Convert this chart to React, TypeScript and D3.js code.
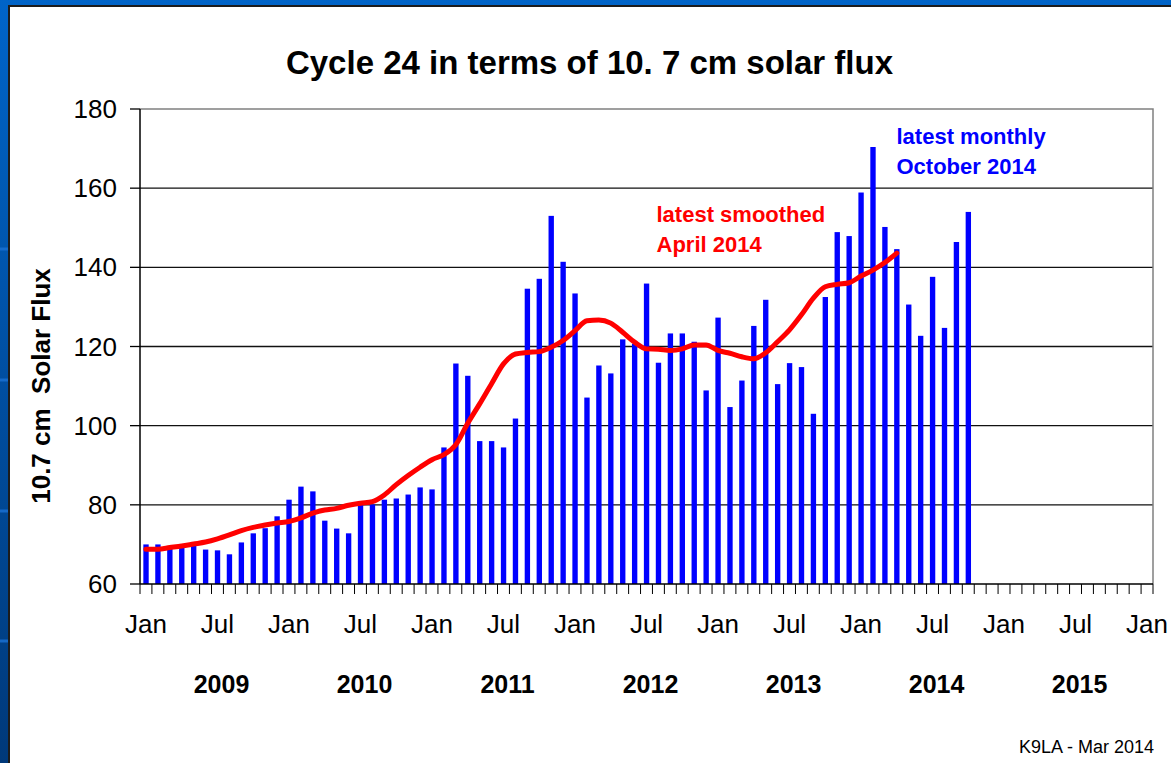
import React from 'react';
import * as d3 from 'd3';

// months shown on the axis, Jan 2009 .. Jan 2016
const years = ['2009', '2010', '2011', '2012', '2013', '2014', '2015'];
const monthNames = ['Jan', 'Feb', 'Mar', 'Apr', 'May', 'Jun', 'Jul', 'Aug', 'Sep', 'Oct', 'Nov', 'Dec'];
const categories = [...years.flatMap(y => monthNames.map(m => `${m} ${y}`)), 'Jan 2016'];

// monthly mean 10.7 cm flux, Jan 2009 .. Oct 2014
const monthlyFlux = [
  70.0, 70.0, 69.2, 69.7, 70.4, 68.7, 68.5, 67.5, 70.5, 72.8, 74.1, 77.1,
  81.3, 84.6, 83.4, 76.0, 74.0, 72.8, 80.3, 80.1, 81.3, 81.6, 82.6, 84.4,
  83.9, 94.5, 115.7, 112.6, 96.1, 96.1, 94.5, 101.8, 134.6, 137.1, 153.0, 141.4,
  133.4, 107.1, 115.2, 113.2, 121.8, 120.7, 135.9, 115.9, 123.3, 123.3, 121.2, 108.9,
  127.3, 104.7, 111.4, 125.2, 131.8, 110.5, 115.8, 114.8, 103.0, 132.5, 148.9, 147.9,
  158.9, 170.4, 150.2, 144.6, 130.6, 122.7, 137.6, 124.7, 146.4, 154.0,
];

// smoothed flux, Jan 2009 .. Apr 2014
const smoothedFlux = [
  68.8, 68.8, 69.2, 69.6, 70.1, 70.6, 71.4, 72.4, 73.5, 74.3, 74.9, 75.4,
  75.8, 76.7, 77.9, 78.7, 79.1, 79.9, 80.4, 80.8, 82.5, 85.1, 87.4, 89.5,
  91.4, 92.7, 95.2, 100.6, 105.5, 110.6, 115.6, 118.1, 118.5, 118.7, 119.8, 121.5,
  124.0, 126.5, 126.7, 125.9, 123.6, 121.1, 119.4, 119.3, 119.0, 119.4, 120.4, 120.4,
  119.0, 118.3, 117.4, 116.9, 118.4, 121.2, 124.2, 128.0, 132.2, 135.1, 135.7, 136.1,
  137.8, 139.3, 141.2, 143.6,
];

const yTicks = [60, 80, 100, 120, 140, 160, 180];
const xTickLabels = ['Jan', 'Jul'];

const W = 1171, H = 763;
const FONT = '"Liberation Sans", Arial, sans-serif';

export default function App() {
  const x = d3.scaleBand<string>().domain(categories).range([140, 1153]);
  const bw = x.bandwidth();
  const cx = (i: number) => (x(categories[i]) as number) + bw / 2;
  const y = d3.scaleLinear().domain([60, 180]).range([584, 109]);

  const line = d3.line<number>()
    .x((_, i) => cx(i))
    .y(d => y(d))
    .curve(d3.curveMonotoneX);

  const boundaries = d3.range(categories.length + 1).map(i => 140 + i * bw);

  return (
    <svg width={W} height={H} style={{ position: 'fixed', left: 0, top: 0 }} fontFamily={FONT}>
      <defs>
        <linearGradient id="frame" x1="0" y1="0" x2="0" y2="1">
          <stop offset="0" stopColor="#0064c8" />
          <stop offset="1" stopColor="#00397a" />
        </linearGradient>
      </defs>
      <rect x={0} y={0} width={W} height={H} fill="url(#frame)" />
      {[249, 380, 511, 641].map(s => (
        <rect key={s} x={0} y={s - 1.5} width={8} height={3} fill="#1a72d4" opacity={0.8} />
      ))}
      <rect x={9} y={6} width={W + 10} height={H + 10} fill="#fff" stroke="#1c1c1c" strokeWidth={2} />

      <text x={589.5} y={74} textAnchor="middle" fontSize={33} fontWeight="bold">
        Cycle 24 in terms of 10. 7 cm solar flux
      </text>

      {/* gridlines */}
      {yTicks.filter(t => t > 60 && t < 180).map(t => (
        <line key={t} x1={140} x2={1153} y1={y(t)} y2={y(t)} stroke="#111" strokeWidth={1.3} />
      ))}
      {/* plot border top/right */}
      <polyline points={`140,${y(180)} 1153,${y(180)} 1153,${y(60)}`} fill="none" stroke="#808080" strokeWidth={1.5} />

      {/* monthly bars */}
      {monthlyFlux.map((v, i) => (
        <rect key={i} x={(x(categories[i]) as number) + bw * 0.28} width={bw * 0.45}
          y={y(v)} height={y(60) - y(v)} fill="#0000ff" />
      ))}

      {/* smoothed */}
      <path d={line(smoothedFlux) || ''} fill="none" stroke="#ff0000" strokeWidth={5}
        strokeLinejoin="round" strokeLinecap="round" />

      {/* axes */}
      <line x1={140} x2={140} y1={y(180)} y2={y(60)} stroke="#000" strokeWidth={1.5} />
      <line x1={140} x2={1153} y1={y(60)} y2={y(60)} stroke="#000" strokeWidth={1.5} />
      {yTicks.map(t => (
        <g key={t}>
          <line x1={130} x2={140} y1={y(t)} y2={y(t)} stroke="#000" strokeWidth={1.3} />
          <text x={117} y={y(t)} dy="0.35em" textAnchor="end" fontSize={26}>{t}</text>
        </g>
      ))}
      {boundaries.map((b, i) => (
        <line key={i} x1={b} x2={b} y1={y(60)} y2={y(60) + 10} stroke="#000" strokeWidth={1} />
      ))}
      {categories.map((c, i) => xTickLabels.includes(c.slice(0, 3)) ? (
        <text key={c} x={cx(i)} y={633} textAnchor="middle" fontSize={26}>{c.slice(0, 3)}</text>
      ) : null)}
      {years.map(yr => (
        <text key={yr} x={(x(`Jul ${yr}`) as number) + 10} y={692.5} textAnchor="middle"
          fontSize={25} fontWeight="bold">{yr}</text>
      ))}

      <text transform={`translate(49.5, 386) rotate(-90)`} textAnchor="middle" fontSize={26} fontWeight="bold">
        {'10.7 cm\u00a0\u00a0Solar Flux'}
      </text>

      <text x={656.5} y={222} fontSize={22} fontWeight="bold" fill="#ff0000">latest smoothed</text>
      <text x={656.5} y={251.5} fontSize={22} fontWeight="bold" fill="#ff0000">April 2014</text>
      <text x={896.5} y={144} fontSize={22} fontWeight="bold" fill="#0000ff">latest monthly</text>
      <text x={896.5} y={174} fontSize={22} fontWeight="bold" fill="#0000ff">October 2014</text>

      <text x={1154} y={753} textAnchor="end" fontSize={18}>K9LA - Mar 2014</text>
    </svg>
  );
}
